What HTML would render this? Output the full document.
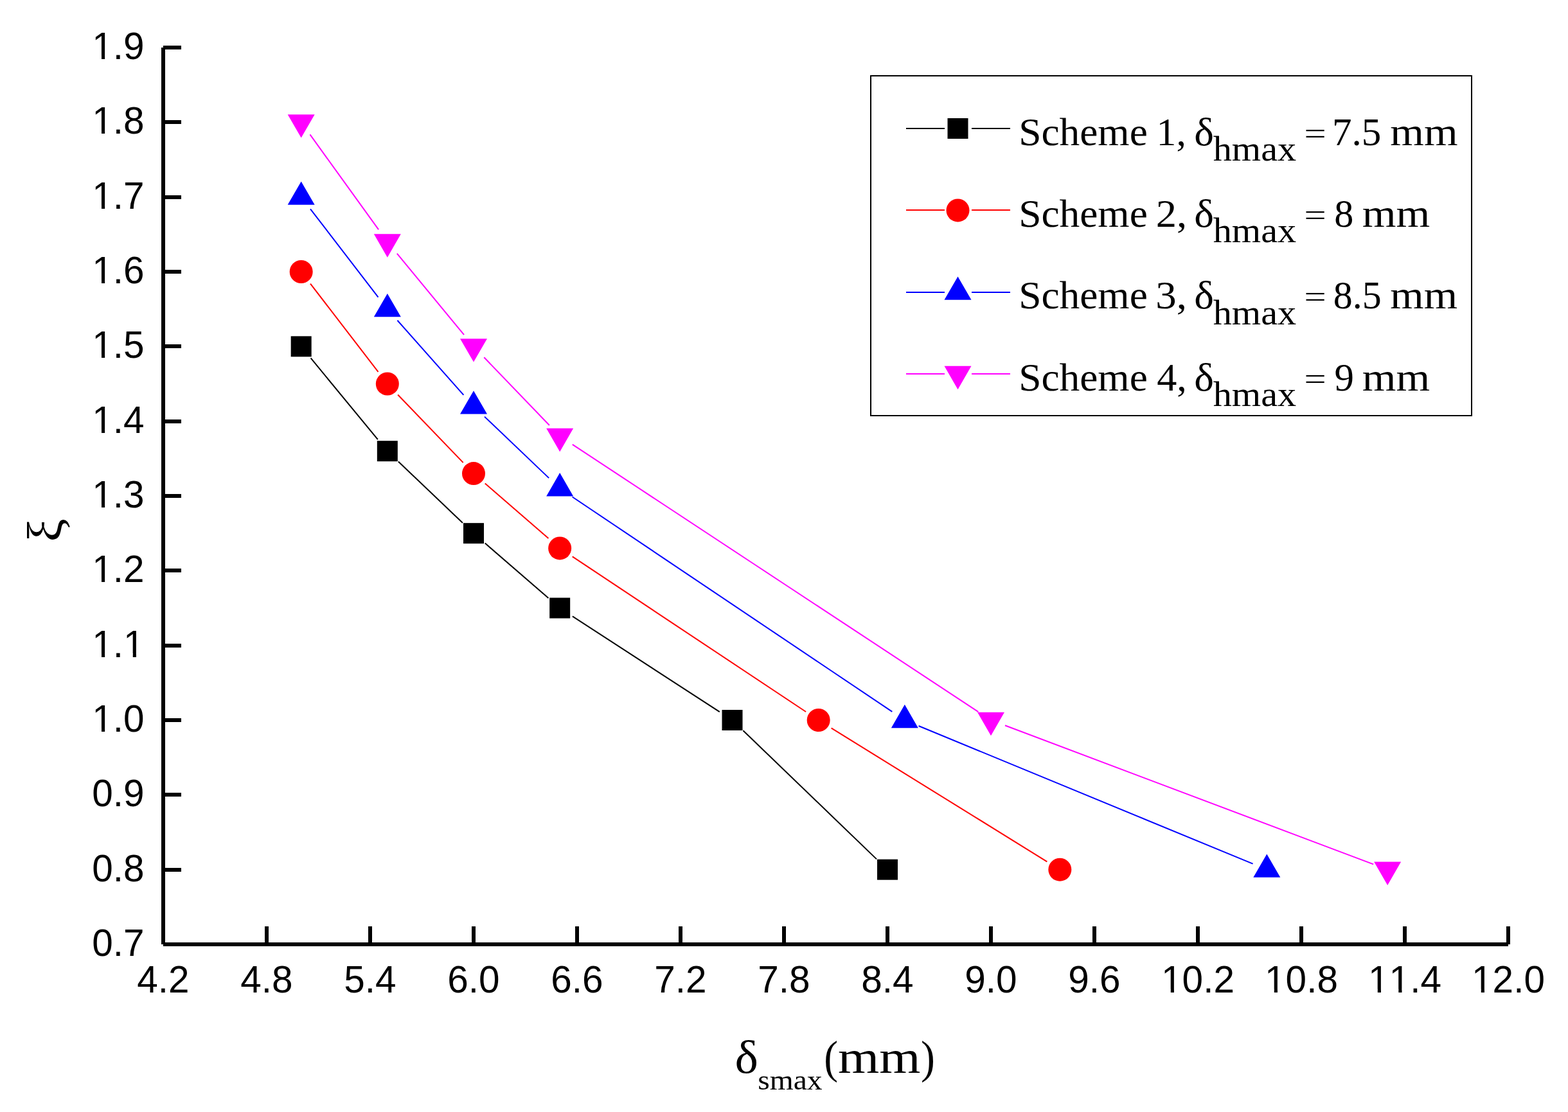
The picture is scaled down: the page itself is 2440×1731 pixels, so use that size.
<!DOCTYPE html>
<html><head><meta charset="utf-8"><title>Chart</title>
<style>html,body{margin:0;padding:0;background:#fff;overflow:hidden;width:2440px;height:1731px;}svg{display:block;}</style>
</head><body>
<svg width="2440" height="1731" viewBox="0 0 2440 1731">
<rect x="0" y="0" width="2440" height="1731" fill="#fff"/>
<g fill="#000" shape-rendering="crispEdges">
<rect x="251" y="74" width="6" height="1396"/>
<rect x="254" y="1467" width="2093" height="6"/>
<rect x="254" y="1351" width="28" height="6"/>
<rect x="254" y="1234" width="28" height="6"/>
<rect x="254" y="1118" width="28" height="6"/>
<rect x="254" y="1002" width="28" height="6"/>
<rect x="254" y="885" width="28" height="6"/>
<rect x="254" y="769" width="28" height="6"/>
<rect x="254" y="653" width="28" height="6"/>
<rect x="254" y="536" width="28" height="6"/>
<rect x="254" y="420" width="28" height="6"/>
<rect x="254" y="304" width="28" height="6"/>
<rect x="254" y="187" width="28" height="6"/>
<rect x="254" y="71" width="28" height="6"/>
<rect x="412" y="1442" width="6" height="28"/>
<rect x="573" y="1442" width="6" height="28"/>
<rect x="734" y="1442" width="6" height="28"/>
<rect x="895" y="1442" width="6" height="28"/>
<rect x="1056" y="1442" width="6" height="28"/>
<rect x="1217" y="1442" width="6" height="28"/>
<rect x="1378" y="1442" width="6" height="28"/>
<rect x="1539" y="1442" width="6" height="28"/>
<rect x="1700" y="1442" width="6" height="28"/>
<rect x="1861" y="1442" width="6" height="28"/>
<rect x="2022" y="1442" width="6" height="28"/>
<rect x="2183" y="1442" width="6" height="28"/>
<rect x="2344" y="1442" width="6" height="28"/>
</g>
<defs><clipPath id="nofoot"><path clip-rule="evenodd" d="M0,0H2440V1731H0ZM146.73,1133.43H157.99V1139.80H146.73ZM163.16,1133.43H173.96V1139.80H163.16ZM146.73,1017.13H157.99V1023.50H146.73ZM163.16,1017.13H173.96V1023.50H163.16ZM195.52,1017.13H206.78V1023.50H195.52ZM211.95,1017.13H222.74V1023.50H211.95ZM146.73,900.73H157.99V907.10H146.73ZM163.16,900.73H173.96V907.10H163.16ZM146.73,784.43H157.99V790.80H146.73ZM163.16,784.43H173.96V790.80H163.16ZM146.73,668.13H157.99V674.50H146.73ZM163.16,668.13H173.96V674.50H163.16ZM146.73,551.73H157.99V558.10H146.73ZM163.16,551.73H173.96V558.10H163.16ZM146.73,435.43H157.99V441.80H146.73ZM163.16,435.43H173.96V441.80H163.16ZM146.73,319.13H157.99V325.50H146.73ZM163.16,319.13H173.96V325.50H163.16ZM146.73,202.73H157.99V209.10H146.73ZM163.16,202.73H173.96V209.10H163.16ZM146.73,86.43H157.99V92.80H146.73ZM163.16,86.43H173.96V92.80H163.16ZM1810.53,1539.63H1821.78V1546.00H1810.53ZM1826.95,1539.63H1837.75V1546.00H1826.95ZM1971.53,1539.63H1982.78V1546.00H1971.53ZM1987.95,1539.63H1998.75V1546.00H1987.95ZM2132.53,1539.63H2143.78V1546.00H2132.53ZM2148.95,1539.63H2159.75V1546.00H2148.95ZM2165.06,1539.63H2176.32V1546.00H2165.06ZM2181.49,1539.63H2192.28V1546.00H2181.49ZM2293.53,1539.63H2304.78V1546.00H2293.53ZM2309.95,1539.63H2320.75V1546.00H2309.95Z"/></clipPath></defs>
<g font-family="'Liberation Sans', Arial, sans-serif" font-size="58.5" fill="#000" clip-path="url(#nofoot)" style="font-kerning:none">
<text x="224.6" y="1487.8" text-anchor="end">0.7</text>
<text x="224.6" y="1371.5" text-anchor="end">0.8</text>
<text x="224.6" y="1255.1" text-anchor="end">0.9</text>
<text x="224.6" y="1138.8" text-anchor="end">1.0</text>
<text x="224.6" y="1022.5" text-anchor="end">1.1</text>
<text x="224.6" y="906.1" text-anchor="end">1.2</text>
<text x="224.6" y="789.8" text-anchor="end">1.3</text>
<text x="224.6" y="673.5" text-anchor="end">1.4</text>
<text x="224.6" y="557.1" text-anchor="end">1.5</text>
<text x="224.6" y="440.8" text-anchor="end">1.6</text>
<text x="224.6" y="324.5" text-anchor="end">1.7</text>
<text x="224.6" y="208.1" text-anchor="end">1.8</text>
<text x="224.6" y="91.8" text-anchor="end">1.9</text>
<text x="254.0" y="1545" text-anchor="middle">4.2</text>
<text x="415.0" y="1545" text-anchor="middle">4.8</text>
<text x="576.0" y="1545" text-anchor="middle">5.4</text>
<text x="737.0" y="1545" text-anchor="middle">6.0</text>
<text x="898.0" y="1545" text-anchor="middle">6.6</text>
<text x="1059.0" y="1545" text-anchor="middle">7.2</text>
<text x="1220.0" y="1545" text-anchor="middle">7.8</text>
<text x="1381.0" y="1545" text-anchor="middle">8.4</text>
<text x="1542.0" y="1545" text-anchor="middle">9.0</text>
<text x="1703.0" y="1545" text-anchor="middle">9.6</text>
<text x="1864.0" y="1545" text-anchor="middle">10.2</text>
<text x="2025.0" y="1545" text-anchor="middle">10.8</text>
<text x="2186.0" y="1545" text-anchor="middle">11.4</text>
<text x="2347.0" y="1545" text-anchor="middle">12.0</text>
</g>
<path d="M483.61,557.47L587.89,684.06M619.84,718.42L719.99,813.95M754.76,845.56L853.41,931.10M890.87,959.31L1119.80,1108.19M1156.42,1137.30L1364.08,1337.36" stroke="#000000" stroke-width="2.0" fill="none"/>
<rect x="452.67" y="523.33" width="32" height="32" fill="#000000"/>
<rect x="586.83" y="686.20" width="32" height="32" fill="#000000"/>
<rect x="721.00" y="814.17" width="32" height="32" fill="#000000"/>
<rect x="855.17" y="930.50" width="32" height="32" fill="#000000"/>
<rect x="1123.50" y="1105.00" width="32" height="32" fill="#000000"/>
<rect x="1365.00" y="1337.67" width="32" height="32" fill="#000000"/>
<path d="M482.99,441.63L588.51,578.87M619.12,614.44L720.72,720.16M754.76,752.50L853.41,838.04M890.74,866.44L1254.10,1107.99M1293.65,1133.37L1629.35,1341.29" stroke="#FF0000" stroke-width="2.0" fill="none"/>
<circle cx="468.67" cy="423.00" r="18" fill="#FF0000"/>
<circle cx="602.83" cy="597.50" r="18" fill="#FF0000"/>
<circle cx="737.00" cy="737.10" r="18" fill="#FF0000"/>
<circle cx="871.17" cy="853.43" r="18" fill="#FF0000"/>
<circle cx="1273.67" cy="1121.00" r="18" fill="#FF0000"/>
<circle cx="1649.33" cy="1353.67" r="18" fill="#FF0000"/>
<path d="M482.99,325.30L588.51,462.54M618.43,498.75L721.40,614.82M754.01,648.62L854.16,744.15M890.67,773.47L1388.33,1107.89M1429.55,1129.97L1949.61,1344.70" stroke="#0000FF" stroke-width="2.0" fill="none"/>
<polygon points="468.67,282.40 489.67,318.80 447.67,318.80" fill="#0000FF"/>
<polygon points="602.83,456.90 623.83,493.30 581.83,493.30" fill="#0000FF"/>
<polygon points="737.00,608.13 758.00,644.53 716.00,644.53" fill="#0000FF"/>
<polygon points="871.17,736.10 892.17,772.50 850.17,772.50" fill="#0000FF"/>
<polygon points="1407.83,1096.73 1428.83,1133.13 1386.83,1133.13" fill="#0000FF"/>
<polygon points="1971.33,1329.40 1992.33,1365.80 1950.33,1365.80" fill="#0000FF"/>
<path d="M482.41,209.40L589.09,357.40M617.78,394.60L722.06,521.20M753.28,556.28L854.88,661.99M890.79,691.86L1522.38,1108.07M1563.99,1129.29L2137.18,1345.38" stroke="#FF00FF" stroke-width="2.0" fill="none"/>
<polygon points="447.67,178.20 489.67,178.20 468.67,214.60" fill="#FF00FF"/>
<polygon points="581.83,364.33 623.83,364.33 602.83,400.73" fill="#FF00FF"/>
<polygon points="716.00,527.20 758.00,527.20 737.00,563.60" fill="#FF00FF"/>
<polygon points="850.17,666.80 892.17,666.80 871.17,703.20" fill="#FF00FF"/>
<polygon points="1521.00,1108.87 1563.00,1108.87 1542.00,1145.27" fill="#FF00FF"/>
<polygon points="2138.17,1341.53 2180.17,1341.53 2159.17,1377.93" fill="#FF00FF"/>
<rect x="1355" y="118" width="935" height="529" fill="none" stroke="#000" stroke-width="2" shape-rendering="crispEdges"/>
<path d="M1410,200.0H1470M1512,200.0H1572" stroke="#000000" stroke-width="2" shape-rendering="crispEdges"/>
<rect x="1474.50" y="184.00" width="32" height="32" fill="#000000"/>
<path d="M1410,327.4H1470M1512,327.4H1572" stroke="#FF0000" stroke-width="2" shape-rendering="crispEdges"/>
<circle cx="1490.50" cy="327.40" r="18" fill="#FF0000"/>
<path d="M1410,454.7H1470M1512,454.7H1572" stroke="#0000FF" stroke-width="2" shape-rendering="crispEdges"/>
<polygon points="1490.50,430.43 1511.50,466.83 1469.50,466.83" fill="#0000FF"/>
<path d="M1410,582.0H1470M1512,582.0H1572" stroke="#FF00FF" stroke-width="2" shape-rendering="crispEdges"/>
<polygon points="1469.50,569.87 1511.50,569.87 1490.50,606.27" fill="#FF00FF"/>
<g font-family="'Liberation Serif', 'Times New Roman', serif" fill="#000">
<text x="1585.16" y="225.50" font-size="61.5" textLength="200.64" lengthAdjust="spacingAndGlyphs">Scheme</text>
<text x="1799.57" y="225.50" font-size="61.5" textLength="46.32" lengthAdjust="spacingAndGlyphs">1,</text>
<text x="1858.25" y="225.50" font-size="61.5" textLength="30.70" lengthAdjust="spacingAndGlyphs">δ</text>
<text x="1887.73" y="250.00" font-size="54.0" textLength="129.48" lengthAdjust="spacingAndGlyphs">hmax</text>
<g transform="translate(0,213.30) scale(1,0.77) translate(0,-213.30)"><text x="2029.58" y="225.50" font-size="61.5" textLength="34.18" lengthAdjust="spacingAndGlyphs">=</text></g>
<text x="2072.97" y="225.50" font-size="61.5" textLength="76.42" lengthAdjust="spacingAndGlyphs">7.5</text>
<text x="2163.38" y="225.50" font-size="61.5" textLength="105.18" lengthAdjust="spacingAndGlyphs">mm</text>
<text x="1585.16" y="352.83" font-size="61.5" textLength="200.64" lengthAdjust="spacingAndGlyphs">Scheme</text>
<text x="1798.66" y="352.83" font-size="61.5" textLength="48.40" lengthAdjust="spacingAndGlyphs">2,</text>
<text x="1858.25" y="352.83" font-size="61.5" textLength="30.70" lengthAdjust="spacingAndGlyphs">δ</text>
<text x="1887.73" y="377.33" font-size="54.0" textLength="129.48" lengthAdjust="spacingAndGlyphs">hmax</text>
<g transform="translate(0,340.63) scale(1,0.77) translate(0,-340.63)"><text x="2029.58" y="352.83" font-size="61.5" textLength="34.18" lengthAdjust="spacingAndGlyphs">=</text></g>
<text x="2076.21" y="352.83" font-size="61.5" textLength="30.08" lengthAdjust="spacingAndGlyphs">8</text>
<text x="2119.88" y="352.83" font-size="61.5" textLength="105.38" lengthAdjust="spacingAndGlyphs">mm</text>
<text x="1585.16" y="480.17" font-size="61.5" textLength="200.64" lengthAdjust="spacingAndGlyphs">Scheme</text>
<text x="1798.39" y="480.17" font-size="61.5" textLength="48.70" lengthAdjust="spacingAndGlyphs">3,</text>
<text x="1858.25" y="480.17" font-size="61.5" textLength="30.70" lengthAdjust="spacingAndGlyphs">δ</text>
<text x="1887.73" y="504.67" font-size="54.0" textLength="129.48" lengthAdjust="spacingAndGlyphs">hmax</text>
<g transform="translate(0,467.97) scale(1,0.77) translate(0,-467.97)"><text x="2029.58" y="480.17" font-size="61.5" textLength="34.18" lengthAdjust="spacingAndGlyphs">=</text></g>
<text x="2074.72" y="480.17" font-size="61.5" textLength="74.92" lengthAdjust="spacingAndGlyphs">8.5</text>
<text x="2163.39" y="480.17" font-size="61.5" textLength="104.66" lengthAdjust="spacingAndGlyphs">mm</text>
<text x="1585.16" y="607.50" font-size="61.5" textLength="200.64" lengthAdjust="spacingAndGlyphs">Scheme</text>
<text x="1800.29" y="607.50" font-size="61.5" textLength="46.63" lengthAdjust="spacingAndGlyphs">4,</text>
<text x="1858.25" y="607.50" font-size="61.5" textLength="30.70" lengthAdjust="spacingAndGlyphs">δ</text>
<text x="1887.73" y="632.00" font-size="54.0" textLength="129.48" lengthAdjust="spacingAndGlyphs">hmax</text>
<g transform="translate(0,595.30) scale(1,0.77) translate(0,-595.30)"><text x="2029.58" y="607.50" font-size="61.5" textLength="34.18" lengthAdjust="spacingAndGlyphs">=</text></g>
<text x="2076.54" y="607.50" font-size="61.5" textLength="30.46" lengthAdjust="spacingAndGlyphs">9</text>
<text x="2119.88" y="607.50" font-size="61.5" textLength="105.18" lengthAdjust="spacingAndGlyphs">mm</text>
<text x="1143.59" y="1670.00" font-size="72.5" textLength="36.41" lengthAdjust="spacingAndGlyphs">δ</text>
<text x="1179.25" y="1695.50" font-size="43.7" textLength="100.33" lengthAdjust="spacingAndGlyphs">smax</text>
<text x="1282.33" y="1670.00" font-size="72.5" textLength="21.78" lengthAdjust="spacingAndGlyphs">(</text>
<text x="1304.07" y="1670.00" font-size="72.5" textLength="128.42" lengthAdjust="spacingAndGlyphs">mm</text>
<text x="1432.88" y="1670.00" font-size="72.5" textLength="21.91" lengthAdjust="spacingAndGlyphs">)</text>
<text transform="translate(95.6,843.5) rotate(-90) scale(1.1,1.03)" font-size="74">ξ</text>
</g>
</svg>
</body></html>
